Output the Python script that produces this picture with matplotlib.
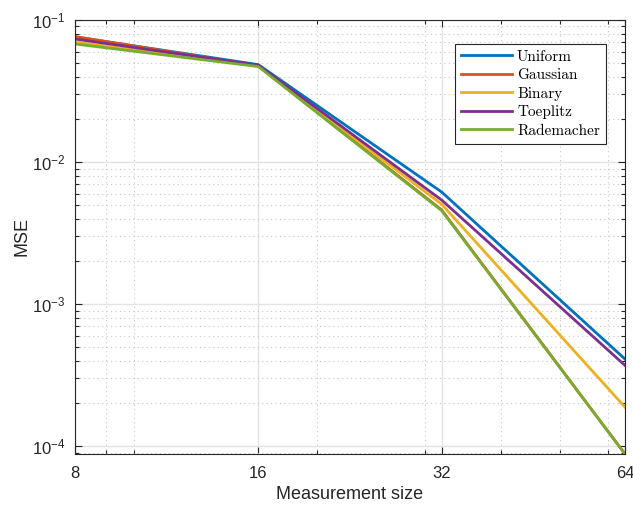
import math
import matplotlib
matplotlib.use("Agg")
import matplotlib.pyplot as plt
from matplotlib.ticker import FixedLocator, NullFormatter, LogLocator, FuncFormatter

plt.rcParams['font.family'] = ['Liberation Sans', 'DejaVu Sans']
plt.rcParams['mathtext.fontset'] = 'custom'
plt.rcParams['mathtext.rm'] = 'Liberation Sans'
plt.rcParams['mathtext.it'] = 'Liberation Sans:italic'

x = [8, 16, 32, 64]
names = ['Uniform', 'Gaussian', 'Binary', 'Toeplitz', 'Rademacher']
uniform = [0.0760, 0.0485, 0.00615, 4.1e-4]
gaussian = [0.0765, 0.0475, 0.00460, 8.8e-5]
binary = [0.0700, 0.0475, 0.00505, 1.88e-4]
toeplitz = [0.0735, 0.0480, 0.00540, 3.7e-4]
rademacher = [0.0678, 0.0470, 0.00455, 8.8e-5]
series = [uniform, gaussian, binary, toeplitz, rademacher]
colors = ['#0072BD', '#D95319', '#EDB120', '#7E2F8E', '#77AC30']
xticks = [8, 16, 32, 64]
xminor = [9, 10, 20, 30, 40, 50, 60]

fig = plt.figure(figsize=(6.33, 5.05), dpi=100)
ax = fig.add_axes([75/633, 51/505, 550/633, 434/505])

for name, ys, c in zip(names, series, colors):
    ax.plot(x, ys, color=c, lw=2, label=name)

ax.set_xscale('log')
ax.set_yscale('log')
ax.set_xlim(8, 64)
ax.set_ylim(8.8e-5, 0.1)
ax.xaxis.set_major_locator(FixedLocator(xticks))
ax.xaxis.set_major_formatter(FuncFormatter(lambda v, p: f'{int(round(v))}'))
ax.xaxis.set_minor_locator(FixedLocator(xminor))
ax.xaxis.set_minor_formatter(NullFormatter())
ax.yaxis.set_major_locator(LogLocator(base=10, numticks=10))
ax.yaxis.set_minor_locator(LogLocator(base=10, subs=range(2, 10), numticks=20))
ax.yaxis.set_minor_formatter(NullFormatter())
ax.yaxis.set_major_formatter(FuncFormatter(lambda v, p: r'$10^{%d}$' % round(math.log10(v))))

ax.grid(True, which='major', color='#e3e3e3', lw=1, ls='-')
ax.grid(True, which='minor', color='#c8c8c8', lw=0.8, ls=(0, (1, 3)))
ax.set_axisbelow(True)

ax.tick_params(which='both', direction='in', top=True, right=True, colors='#262626',
               labelsize=12, width=0.8)
ax.tick_params(which='major', length=5)
ax.tick_params(which='minor', length=3)
ax.tick_params(axis='x', which='major', pad=9)
ax.tick_params(axis='y', which='major', pad=7)
for sp in ax.spines.values():
    sp.set_color('#262626')
    sp.set_linewidth(0.8)

ax.set_xlabel('Measurement size', fontsize=13, color='#262626', labelpad=3)
ax.set_ylabel('MSE', fontsize=13, color='#262626', labelpad=1)

leg = ax.legend(loc='upper right', bbox_to_anchor=(0.9655, 0.9447), borderaxespad=0,
                prop={'family': 'cmr10', 'size': 11}, fancybox=False,
                edgecolor='#262626', framealpha=1, handlelength=3.3,
                labelspacing=0.3, borderpad=0.4, handletextpad=0.35)
leg.get_frame().set_linewidth(0.8)

fig.savefig('out.png', dpi=100)
